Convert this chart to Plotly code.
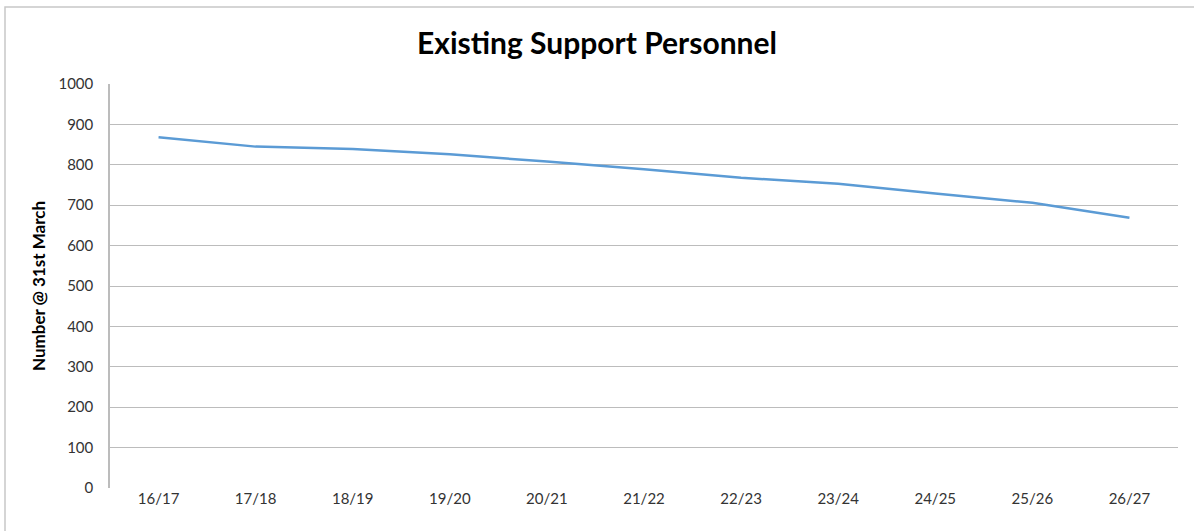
import plotly.graph_objects as go

# Financial years (at 31st March)
years = ["16/17", "17/18", "18/19", "19/20", "20/21", "21/22",
         "22/23", "23/24", "24/25", "25/26", "26/27"]
# Support personnel headcount
personnel = [868, 845, 839, 826, 808, 789, 768, 753, 729, 706, 669]

y_ticks = list(range(0, 1001, 100))

W, H = 1194, 531
L, R, T, B = 110, 16, 84, 43
pw, ph = W - L - R, H - T - B

fig = go.Figure()
fig.add_trace(go.Scatter(
    x=years, y=personnel, mode="lines",
    line=dict(color="#5b9bd5", width=2.5),
    hoverinfo="x+y", showlegend=False,
))

grid = "#bcbcbc"
fig.update_layout(
    width=W, height=H,
    margin=dict(l=L, r=R, t=T, b=B),
    paper_bgcolor="white", plot_bgcolor="white",
    font=dict(family="Lato, 'Open Sans', sans-serif", size=15, color="#333333"),
    title=dict(text="<b>Existing Support Personnel</b>", x=0.5, xanchor="center",
               y=1 - 43 / H, yanchor="middle",
               font=dict(size=30, color="#000000")),
    xaxis=dict(
        type="category", showgrid=False, zeroline=False,
        showline=False, ticks="", tickfont=dict(size=15, color="#333333"),
        range=[-0.5, len(years) - 0.5],
    ),
    yaxis=dict(
        range=[0, 1000], tickvals=y_ticks, showgrid=True, gridcolor=grid,
        gridwidth=1, zeroline=False, showline=True, linecolor=grid,
        linewidth=1.5, ticks="", ticklabelstandoff=12,
        tickfont=dict(size=15, color="#333333"),
        title=dict(text="<b>Number @ 31st March</b>", standoff=8,
                   font=dict(size=17, color="#000000")),
    ),
    shapes=[dict(
        type="rect", xref="paper", yref="paper",
        x0=(5 - L) / pw, x1=(W + 10 - L) / pw,
        y0=-(H + 10 - (T + ph)) / ph, y1=(T + ph - 7) / ph,
        line=dict(color="#c8c8c8", width=1.5), fillcolor="rgba(0,0,0,0)",
        layer="below",
    )],
)

fig.write_html("out.html")
